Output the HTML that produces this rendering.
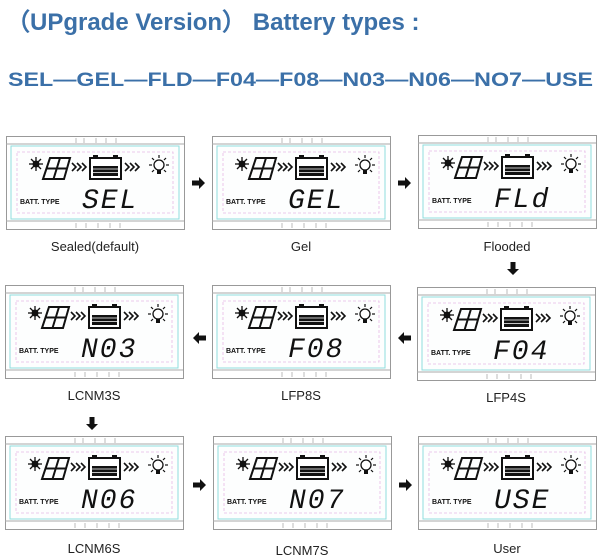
<!DOCTYPE html>
<html><head><meta charset="utf-8"><style>
html,body{margin:0;padding:0;background:#fff;}
svg{display:block}
</style></head><body>
<svg width="600" height="560" viewBox="0 0 600 560" xmlns="http://www.w3.org/2000/svg" font-family="Liberation Sans, sans-serif">
<defs>
<g id="chev" fill="none" stroke="#111" stroke-width="1.6"><polyline points="0,27 4,31 0,35"/><polyline points="5,27 9,31 5,35"/><polyline points="10,27 14,31 10,35"/></g>
<g id="lcd">
  <rect x="0.5" y="0.5" width="178" height="93" fill="#fff" stroke="#999"/>
  <line x1="0" y1="8" x2="178" y2="8" stroke="#aaa"/>
  <line x1="0" y1="85" x2="178" y2="85" stroke="#aaa"/>
  <rect x="5" y="10" width="168" height="73" fill="#fdfefe" stroke="#8fdede"/>
  <rect x="11" y="16" width="156" height="61" fill="none" stroke="#e6b8e6" stroke-dasharray="3,2" stroke-width="0.8"/>
  <g stroke="#aaa" stroke-width="0.8"><line x1="70" y1="2" x2="70" y2="7"/><line x1="78" y1="2" x2="78" y2="7"/><line x1="90" y1="2" x2="90" y2="7"/><line x1="100" y1="2" x2="100" y2="7"/><line x1="110" y1="2" x2="110" y2="7"/><line x1="70" y1="87" x2="70" y2="92"/><line x1="80" y1="87" x2="80" y2="92"/><line x1="92" y1="87" x2="92" y2="92"/><line x1="104" y1="87" x2="104" y2="92"/><line x1="114" y1="87" x2="114" y2="92"/></g>
  <circle cx="30" cy="28" r="3.5" fill="#111"/>
  <g stroke="#111" stroke-width="1.3"><line x1="30" y1="21" x2="30" y2="35"/><line x1="23" y1="28" x2="37" y2="28"/><line x1="25" y1="23" x2="35" y2="33"/><line x1="35" y1="23" x2="25" y2="33"/></g>
  <g fill="none" stroke="#111" stroke-width="2"><polygon points="44,22 64,22 58,43 37,43"/><line x1="54" y1="22" x2="47.5" y2="43"/><line x1="40.5" y1="32.5" x2="61" y2="32.5"/></g>
  <use href="#chev" x="66" y="0"/>
  <rect x="84" y="22" width="31" height="21" fill="#fff" stroke="#111" stroke-width="2"/>
  <rect x="87" y="19" width="5" height="3" fill="#111"/><rect x="107" y="19" width="5" height="3" fill="#111"/>
  <rect x="87" y="30" width="25" height="10" fill="#111"/>
  <line x1="87" y1="33" x2="112" y2="33" stroke="#fff" stroke-width="0.8"/><line x1="87" y1="36.5" x2="112" y2="36.5" stroke="#fff" stroke-width="0.8"/>
  <use href="#chev" x="119" y="0"/>
  <circle cx="153" cy="29" r="5" fill="#fff" stroke="#111" stroke-width="1.3"/>
  <rect x="151" y="34" width="4" height="4" fill="#111"/>
  <g stroke="#111" stroke-width="1.2"><line x1="153" y1="19" x2="153" y2="22"/><line x1="143" y1="29" x2="146" y2="29"/><line x1="160" y1="29" x2="163" y2="29"/><line x1="146" y1="22" x2="148" y2="24"/><line x1="160" y1="22" x2="158" y2="24"/><line x1="146" y1="36" x2="148" y2="34"/><line x1="160" y1="36" x2="158" y2="34"/></g>
  <text x="14" y="68" font-family="Liberation Sans, sans-serif" font-style="normal" font-size="7" font-weight="bold" letter-spacing="0" fill="#111">BATT. TYPE</text>
</g>
<g id="ar"><polygon points="0,-2.5 7,-2.5 7,-6 13,0 7,6 7,2.5 0,2.5" fill="#111"/></g>
</defs>

<text x="6" y="30" font-size="24" font-weight="bold" fill="#3b70a8">（UPgrade Version） Battery types :</text>
<text x="8" y="86" font-size="19.5" font-weight="bold" fill="#3b70a8" textLength="585" lengthAdjust="spacingAndGlyphs">SEL—GEL—FLD—F04—F08—N03—N06—NO7—USE</text>

<use href="#lcd" x="6" y="136"/>
<use href="#lcd" x="212" y="136"/>
<use href="#lcd" x="418" y="135"/>
<use href="#lcd" x="5" y="285"/>
<use href="#lcd" x="212" y="285"/>
<use href="#lcd" x="417" y="287"/>
<use href="#lcd" x="5" y="436"/>
<use href="#lcd" x="213" y="436"/>
<use href="#lcd" x="418" y="436"/>

<g font-family="Liberation Mono, monospace" font-style="italic" font-size="28" fill="#111" letter-spacing="2">
<text x="82" y="208">SEL</text>
<text x="288" y="208">GEL</text>
<text x="494" y="207">FLd</text>
<text x="81" y="357">N03</text>
<text x="288" y="357">F08</text>
<text x="493" y="359">F04</text>
<text x="81" y="508">N06</text>
<text x="289" y="508">N07</text>
<text x="494" y="508">USE</text>
</g>

<g font-size="13" fill="#222" text-anchor="middle">
<text x="95" y="251">Sealed(default)</text>
<text x="301" y="251">Gel</text>
<text x="507" y="251">Flooded</text>
<text x="94" y="400">LCNM3S</text>
<text x="301" y="400">LFP8S</text>
<text x="506" y="402">LFP4S</text>
<text x="94" y="553">LCNM6S</text>
<text x="302" y="555">LCNM7S</text>
<text x="507" y="553">User</text>
</g>

<use href="#ar" x="192" y="183"/>
<use href="#ar" x="398" y="183"/>
<use href="#ar" transform="translate(513,262) rotate(90)"/>
<use href="#ar" transform="translate(411,338) rotate(180)"/>
<use href="#ar" transform="translate(206,338) rotate(180)"/>
<use href="#ar" transform="translate(92,417) rotate(90)"/>
<use href="#ar" x="193" y="485"/>
<use href="#ar" x="399" y="485"/>
</svg>
</body></html>
